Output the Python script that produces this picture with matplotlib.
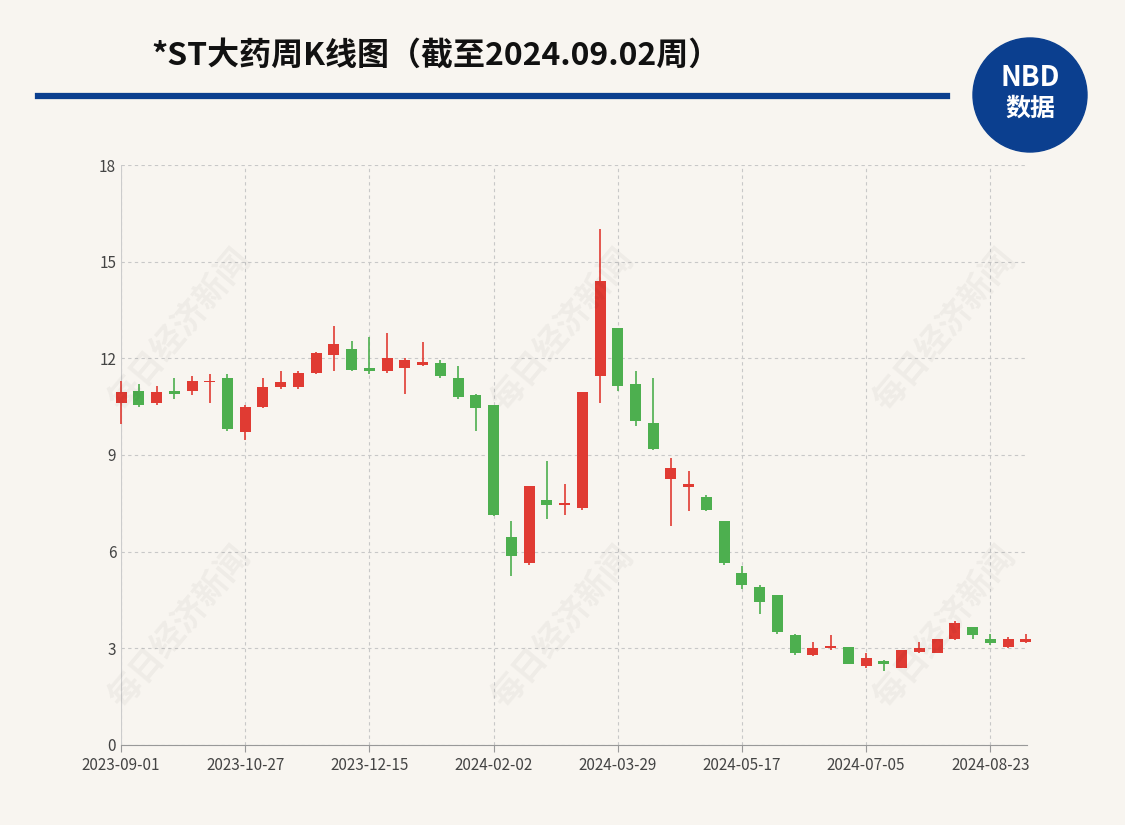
import matplotlib
matplotlib.use("Agg")
import matplotlib.pyplot as plt

plt.rcParams['font.family'] = ['Noto Sans CJK SC', 'DejaVu Sans']

opens  = [10.6,11.0,10.6,11.0,11.0,11.25,11.4,9.7,10.5,11.1,11.1,11.55,12.1,12.3,11.7,11.6,11.7,11.8,11.85,11.4,10.85,10.55,6.45,5.65,7.6,7.45,7.35,11.45,12.95,11.2,10.0,8.25,8.0,7.7,6.95,5.35,4.9,4.65,3.4,2.8,3.0,3.05,2.45,2.6,2.4,2.9,2.85,3.3,3.65,3.3,3.05,3.2]
closes = [10.95,10.55,10.95,10.9,11.3,11.3,9.8,10.5,11.1,11.25,11.55,12.15,12.45,11.65,11.6,12.0,11.95,11.9,11.45,10.8,10.45,7.15,5.85,8.05,7.45,7.5,10.95,14.4,11.15,10.05,9.2,8.6,8.1,7.3,5.65,4.95,4.45,3.5,2.85,3.0,3.05,2.5,2.7,2.5,2.95,3.0,3.3,3.8,3.4,3.15,3.3,3.3]
highs  = [11.3,11.2,11.15,11.4,11.45,11.5,11.5,10.55,11.4,11.6,11.6,12.2,13.0,12.55,12.65,12.8,12.0,12.5,11.95,11.75,10.9,10.55,6.95,8.05,8.8,8.1,10.95,16.0,12.95,11.6,11.4,8.9,8.5,7.75,6.95,5.55,4.95,4.65,3.45,3.2,3.4,3.05,2.85,2.65,2.95,3.2,3.3,3.85,3.65,3.45,3.35,3.45]
lows   = [9.95,10.5,10.55,10.75,10.85,10.6,9.75,9.45,10.45,11.05,11.05,11.5,11.6,11.6,11.5,11.55,10.9,11.75,11.4,10.75,9.75,7.1,5.25,5.6,7.0,7.15,7.3,10.6,11.0,9.9,9.15,6.8,7.25,7.25,5.6,4.85,4.05,3.45,2.8,2.75,2.95,2.5,2.4,2.3,2.4,2.85,2.85,3.25,3.3,3.1,3.0,3.15]
tick_idx = [0,7,14,21,28,35,42,49]
tick_labels = ["2023-09-01","2023-10-27","2023-12-15","2024-02-02","2024-03-29","2024-05-17","2024-07-05","2024-08-23"]

bg = '#f8f5f0'
red, green = '#e03b33', '#4daf4f'
fig = plt.figure(figsize=(11.25, 8.25), dpi=100, facecolor=bg)
ax = fig.add_axes([0.1076, 0.097, 0.805, 0.703], facecolor=bg)

for i, (o, c, h, l) in enumerate(zip(opens, closes, highs, lows)):
    col = red if c >= o else green
    ax.vlines(i, l, h, color=col, lw=1.2, zorder=3, clip_on=False)
    ax.bar(i, max(abs(c - o), 0.06), bottom=min(o, c), width=0.62, color=col, zorder=4, clip_on=False)

ax.set_xlim(0, 51.05)
ax.set_ylim(0, 18)
ax.set_yticks(range(0, 19, 3))
ax.set_xticks(tick_idx)
ax.set_xticklabels(tick_labels)
ax.grid(True, color='#c8c8c8', ls=(0, (3, 3)), lw=0.8)
for s in ['top', 'right', 'left']:
    ax.spines[s].set_visible(False)
ax.spines['bottom'].set_color('#999999')
ax.tick_params(colors='#444444', labelsize=11, length=0)
ax.tick_params(axis='x', length=5, color='#999999')
ax.axvline(0, color='#cccccc', lw=0.8)

for (x, y) in [(0.16, 0.78), (0.5, 0.78), (0.84, 0.78), (0.16, 0.42), (0.5, 0.42), (0.84, 0.42)]:
    fig.text(x, y - 0.18, '每日经济新闻', fontsize=24, color='#000000', alpha=0.04,
             rotation=50, ha='center', va='center', fontweight='bold')

fig.text(0.135, 0.933, '*ST大药周K线图（截至2024.09.02周）', fontsize=23, fontweight='bold',
         ha='left', va='center', color='#111111')
fig.add_artist(plt.Line2D([0.034, 0.842], [0.884, 0.884], color='#0b3f8f', lw=4.5))
fig.add_artist(plt.Circle((1030, 825 - 95), 57, transform=None, color='#0b3f8f'))
fig.text(0.9155, 0.905, 'NBD', fontsize=20, fontweight='bold', color='white', ha='center', va='center', style='italic')
fig.text(0.9155, 0.868, '数据', fontsize=18, fontweight='bold', color='white', ha='center', va='center')

fig.savefig('out.png', dpi=100, facecolor=bg)
